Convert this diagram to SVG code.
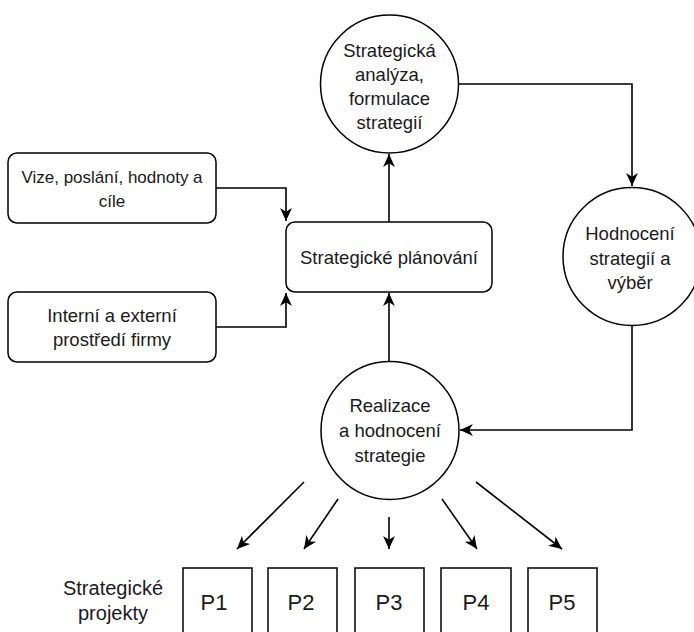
<svg xmlns="http://www.w3.org/2000/svg" width="694" height="632" viewBox="0 0 694 632">
<style>
.shape{fill:#fff;stroke:#000;stroke-width:1.5}
.conn{fill:none;stroke:#000;stroke-width:1.6}
text{font-family:"Liberation Sans",Arial,sans-serif;fill:#1a1a1a;text-anchor:middle}
.t{font-size:18.5px}
.ts{font-size:17px}
.tp{font-size:22px}
.tl{font-size:20px}
</style>
<defs>
<marker id="arr" markerUnits="userSpaceOnUse" markerWidth="14" markerHeight="14" viewBox="0 0 13 13" refX="12" refY="6.5" orient="auto">
<path d="M0,1 L12,6.5 L0,12 L3.5,6.5 Z" fill="#000"/>
</marker>
</defs>
<rect x="0" y="0" width="694" height="632" fill="#fff"/>
<g id="connectors">
<path class="conn" d="M216,188 H286 V221" marker-end="url(#arr)"/>
<path class="conn" d="M216,327 H286 V293" marker-end="url(#arr)"/>
<path class="conn" d="M389,222 V154" marker-end="url(#arr)"/>
<path class="conn" d="M389,362 V293" marker-end="url(#arr)"/>
<path class="conn" d="M459,84 H632 V186" marker-end="url(#arr)"/>
<path class="conn" d="M632,326 V430 H460" marker-end="url(#arr)"/>
<path class="conn" d="M304,482 L237,549" marker-end="url(#arr)"/>
<path class="conn" d="M338,499 L304,549" marker-end="url(#arr)"/>
<path class="conn" d="M389,517 L389,549" marker-end="url(#arr)"/>
<path class="conn" d="M442,499 L477,549" marker-end="url(#arr)"/>
<path class="conn" d="M476,482 L562,549" marker-end="url(#arr)"/>
</g>
<g id="analyza">
<circle class="shape" cx="389.5" cy="84" r="69"/>
<text class="t" x="389.5" y="57">Strategická</text>
<text class="t" x="389.5" y="81">analýza,</text>
<text class="t" x="389.5" y="105">formulace</text>
<text class="t" x="389.5" y="129">strategií</text>
</g>
<g id="vize">
<rect class="shape" x="8" y="153" width="208" height="70" rx="9"/>
<text class="ts" x="112" y="183">Vize, poslání, hodnoty a</text>
<text class="ts" x="112" y="207">cíle</text>
</g>
<g id="planovani">
<rect class="shape" x="286" y="222" width="206" height="70" rx="9"/>
<text class="t" x="389" y="264">Strategické plánování</text>
</g>
<g id="interni">
<rect class="shape" x="8" y="292" width="208" height="70" rx="9"/>
<text class="t" x="112" y="322">Interní a externí</text>
<text class="t" x="112" y="346">prostředí firmy</text>
</g>
<g id="hodnoceni">
<circle class="shape" cx="632" cy="256.5" r="69"/>
<text class="t" x="630" y="240">Hodnocení</text>
<text class="t" x="630" y="265">strategií a</text>
<text class="t" x="630" y="289">výběr</text>
</g>
<g id="realizace">
<circle class="shape" cx="390" cy="430.5" r="69"/>
<text class="t" x="390" y="412">Realizace</text>
<text class="t" x="390" y="437">a hodnocení</text>
<text class="t" x="390" y="462">strategie</text>
</g>
<g id="projekty-label">
<text class="tl" x="113" y="595">Strategické</text>
<text class="tl" x="113" y="620">projekty</text>
</g>
<g id="p1"><rect class="shape" x="183" y="568" width="69" height="80"/><text class="tp" x="214" y="610">P1</text></g>
<g id="p2"><rect class="shape" x="268" y="568" width="69" height="80"/><text class="tp" x="301" y="610">P2</text></g>
<g id="p3"><rect class="shape" x="355" y="568" width="69" height="80"/><text class="tp" x="389" y="610">P3</text></g>
<g id="p4"><rect class="shape" x="441" y="568" width="70" height="80"/><text class="tp" x="476" y="610">P4</text></g>
<g id="p5"><rect class="shape" x="528" y="568" width="69" height="80"/><text class="tp" x="562" y="610">P5</text></g>
</svg>
